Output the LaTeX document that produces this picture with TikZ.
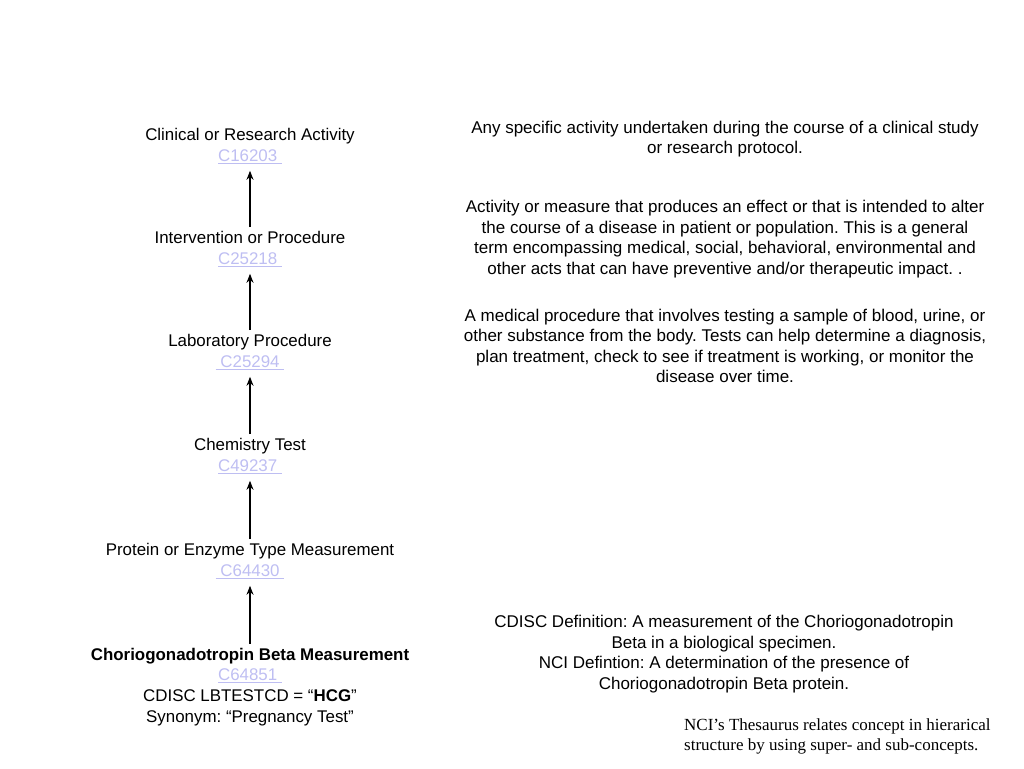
\documentclass[tikz,border=0pt]{standalone}
\usepackage{fontspec}
\setmainfont{Liberation Sans}
\newfontfamily\serifnote{Liberation Serif}
\usetikzlibrary{arrows.meta}
\definecolor{linkc}{RGB}{190,190,242}
\newcommand{\lnk}[1]{\textcolor{linkc}{\underline{#1\ }}}
\frenchspacing
\tikzset{
  txt/.style={align=center, inner sep=2pt, font=\fontsize{16.9}{20.8}\selectfont},
  desc/.style={align=center, inner sep=0pt, font=\fontsize{17}{20.6}\selectfont},
  up/.style={-{Stealth[length=9pt,width=7pt]}, line width=1.2pt, shorten <=2pt, shorten >=5pt}
}
\begin{document}
\begin{tikzpicture}[x=1pt,y=-1pt]
\useasboundingbox (0,0) rectangle (1024,768);
\node[txt] (n1) at (250,146) {Clinical or Research Activity\\\lnk{C16203}};
\node[txt] (n2) at (250,249) {Intervention or Procedure\\\lnk{C25218}};
\node[txt] (n3) at (250,352) {Laboratory Procedure\\\lnk{\ C25294}};
\node[txt] (n4) at (250,456) {Chemistry Test\\\lnk{C49237}};
\node[txt] (n5) at (250,561) {Protein or Enzyme Type Measurement\\\lnk{\ C64430}};
\node[txt] (n6) at (250,687) {\textbf{Choriogonadotropin Beta Measurement}\\\lnk{C64851}\\CDISC LBTESTCD = “\textbf{HCG}”\\Synonym: “Pregnancy Test”};
\draw[up] (n2) -- (n1);
\draw[up] (n3) -- (n2);
\draw[up] (n4) -- (n3);
\draw[up] (n5) -- (n4);
\draw[up] (n6) -- (n5);
\node[desc] (d1) at (725,139) {Any specific activity undertaken during the course of a clinical study\\or research protocol.};
\node[desc] (d2) at (725,239) {Activity or measure that produces an effect or that is intended to alter\\the course of a disease in patient or population. This is a general\\term encompassing medical, social, behavioral, environmental and\\other acts that can have preventive and/or therapeutic impact. .};
\node[desc] (d3) at (725,346) {A medical procedure that involves testing a sample of blood, urine, or\\other substance from the body. Tests can help determine a diagnosis,\\plan treatment, check to see if treatment is working, or monitor the\\disease over time.};
\node[desc] (d4) at (724,654) {CDISC Definition: A measurement of the Choriogonadotropin\\Beta in a biological specimen.\\NCI Defintion: A determination of the presence of\\Choriogonadotropin Beta protein.};
\node[align=left, anchor=west, inner sep=0pt, font=\serifnote\fontsize{17}{20}\selectfont] (note) at (684,736) {NCI’s Thesaurus relates concept in hierarical\\structure by using super- and sub-concepts.};
\end{tikzpicture}
\end{document}
